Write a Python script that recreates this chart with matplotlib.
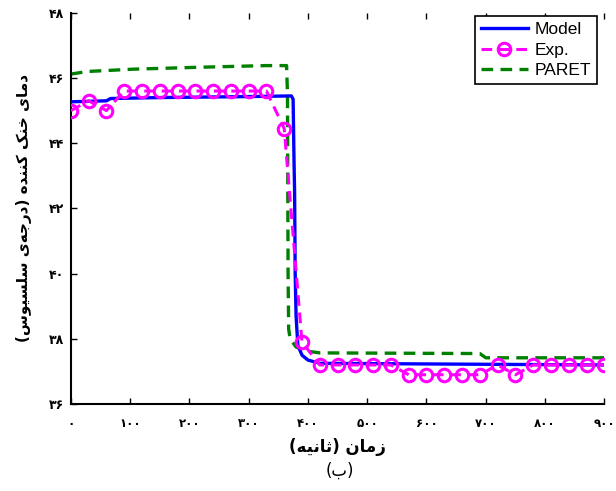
import matplotlib
matplotlib.use("Agg")
import matplotlib.pyplot as plt

# ---- data ----
model_t = [0, 60, 67, 150, 300, 372, 375, 376.5, 377.5, 378.5, 380, 383, 390, 400, 420, 900]
model_T = [45.27, 45.3, 45.37, 45.4, 45.43, 45.45, 45.35, 43.5, 42.5, 40.0, 38.7, 37.8, 37.5, 37.35, 37.25, 37.2]

exp_t = list(range(0, 901, 30))
exp_T = [45.0, 45.3, 45.0,
         45.6, 45.6, 45.6, 45.6, 45.6, 45.6, 45.6, 45.6, 45.6,
         44.45, 37.9,
         37.2, 37.2, 37.2, 37.2, 37.2,
         36.9, 36.9, 36.9, 36.9, 36.9,
         37.2, 36.9,
         37.2, 37.2, 37.2, 37.2, 37.2]

paret_t = [0, 28, 105, 218, 330, 364, 365.5, 366.5, 367.5, 370, 380, 400, 420, 690, 700, 900]
paret_T = [46.12, 46.2, 46.27, 46.33, 46.38, 46.38, 45.5, 40.0, 38.3, 38.0, 37.75, 37.62, 37.57, 37.55, 37.42, 37.42]

xticks = [0, 100, 200, 300, 400, 500, 600, 700, 800, 900]
yticks = [36, 38, 40, 42, 44, 46, 48]

xlabel_fa = "زمان (ثانیه)"
ylabel_fa = "دمای خنک کننده (درجه\u200cی سلسیوس)"
title_fa = "(ب)"

# ---- minimal arabic/persian shaping (matplotlib has no text shaping) ----
FORMS = {
    "ا": ("\uFE8D", "\uFE8E", None, None),
    "ب": ("\uFE8F", "\uFE90", "\uFE91", "\uFE92"),
    "ت": ("\uFE95", "\uFE96", "\uFE97", "\uFE98"),
    "ث": ("\uFE99", "\uFE9A", "\uFE9B", "\uFE9C"),
    "ج": ("\uFE9D", "\uFE9E", "\uFE9F", "\uFEA0"),
    "خ": ("\uFEA5", "\uFEA6", "\uFEA7", "\uFEA8"),
    "د": ("\uFEA9", "\uFEAA", None, None),
    "ر": ("\uFEAD", "\uFEAE", None, None),
    "ز": ("\uFEAF", "\uFEB0", None, None),
    "س": ("\uFEB1", "\uFEB2", "\uFEB3", "\uFEB4"),
    "ل": ("\uFEDD", "\uFEDE", "\uFEDF", "\uFEE0"),
    "م": ("\uFEE1", "\uFEE2", "\uFEE3", "\uFEE4"),
    "ن": ("\uFEE5", "\uFEE6", "\uFEE7", "\uFEE8"),
    "ه": ("\uFEE9", "\uFEEA", "\uFEEB", "\uFEEC"),
    "و": ("\uFEED", "\uFEEE", None, None),
    "ی": ("\uFBFC", "\uFBFD", "\uFBFE", "\uFBFF"),
    "ک": ("\uFB8E", "\uFB8F", "\uFB90", "\uFB91"),
}


def shape(text):
    out = []
    for i, c in enumerate(text):
        if c not in FORMS:
            out.append(c)
            continue
        prev = text[i - 1] if i > 0 else ""
        nxt = text[i + 1] if i + 1 < len(text) else ""
        join_prev = prev in FORMS and FORMS[prev][2] is not None
        join_next = FORMS[c][2] is not None and nxt in FORMS
        iso, fin, ini, med = FORMS[c]
        if join_prev and join_next:
            out.append(med)
        elif join_prev:
            out.append(fin)
        elif join_next:
            out.append(ini)
        else:
            out.append(iso)
    s = "".join(out).replace("\u200c", "")
    s = s[::-1]
    return s.translate(str.maketrans("()", ")("))


def fa_digits(n):
    return str(n).translate(str.maketrans("0123456789", "۰۱۲۳۴۵۶۷۸۹"))


fig = plt.figure(figsize=(6.16, 4.91), dpi=100)
ax = fig.add_axes([0.115, 0.177, 0.866, 0.797])

l_paret, = ax.plot(paret_t, paret_T, color="#008000", lw=2.4, ls=(0, (3.5, 2.2)), zorder=2)
l_model, = ax.plot(model_t, model_T, color="#0000FF", lw=2.4, zorder=3)
l_exp, = ax.plot(exp_t, exp_T, color="#FF00FF", lw=2.2, ls=(0, (3.5, 2.2)),
                 marker="o", ms=9, mfc="none", mew=2.2, zorder=4)

ax.set_xlim(0, 900)
ax.set_ylim(36, 48)
ax.set_xticks(xticks)
ax.set_yticks(yticks)
ax.set_xticklabels([fa_digits(v) for v in xticks], fontfamily="DejaVu Sans",
                   fontweight="bold", fontsize=8.5)
ax.set_yticklabels([fa_digits(v) for v in yticks], fontfamily="DejaVu Sans",
                   fontweight="bold", fontsize=9)
ax.tick_params(direction="in", length=4, width=1, top=True, right=False)
ax.tick_params(axis="x", pad=9)
ax.tick_params(axis="y", pad=5)

for side in ["top", "right"]:
    ax.spines[side].set_visible(False)
ax.spines["left"].set_linewidth(1.5)
ax.spines["bottom"].set_linewidth(1.5)

ax.set_xlabel(shape(xlabel_fa), fontfamily="DejaVu Sans", fontweight="bold",
              fontsize=12, labelpad=6)
ax.set_ylabel(shape(ylabel_fa), fontfamily="DejaVu Sans", fontweight="bold",
              fontsize=11, labelpad=12)
fig.text(0.552, 0.042, shape(title_fa), fontfamily="DejaVu Sans", fontsize=12,
         ha="center", va="center")

leg = ax.legend([l_model, l_exp, l_paret], ["Model", "Exp.", "PARET"],
                loc="upper right", bbox_to_anchor=(0.993, 1.0),
                prop={"family": "Liberation Sans", "size": 12.5},
                fancybox=False, edgecolor="black", framealpha=1,
                borderpad=0.35, labelspacing=0.3, handlelength=2.7,
                handletextpad=0.4, borderaxespad=0.2)
leg.get_frame().set_linewidth(1.2)

fig.savefig("out.png", dpi=100)
